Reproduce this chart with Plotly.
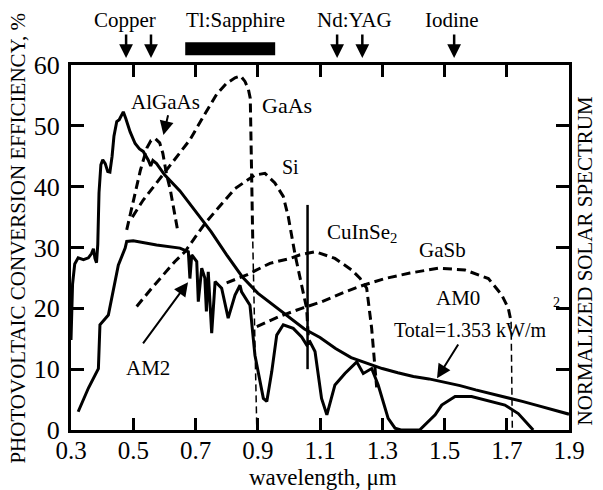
import plotly.graph_objects as go

# ---------------- data ----------------
wl_am0 = [0.300, 0.305, 0.312, 0.323, 0.340, 0.356, 0.366, 0.372, 0.377, 0.382, 0.386, 0.390,
          0.396, 0.402, 0.410, 0.418, 0.425, 0.432, 0.438, 0.447, 0.455, 0.462, 0.468, 0.476,
          0.490, 0.506, 0.520, 0.532, 0.548, 0.556, 0.563, 0.575, 0.585, 0.600, 0.650, 0.700,
          0.750, 0.800, 0.850, 0.900, 0.950, 1.000, 1.050, 1.100, 1.150, 1.200, 1.250, 1.300,
          1.350, 1.400, 1.450, 1.500, 1.550, 1.600, 1.650, 1.700, 1.750, 1.800, 1.850, 1.900]
am0 = [14.8, 24.0, 27.3, 28.3, 28.0, 28.3, 29.0, 29.8, 28.2, 27.5, 30.5, 39.0,
       43.6, 44.4, 43.8, 42.5, 42.4, 45.0, 48.3, 50.7, 51.0, 51.6, 52.3, 51.2,
       49.0, 47.1, 46.2, 45.8, 44.4, 43.4, 44.3, 43.8, 43.0, 42.0, 39.3, 36.0,
       32.6, 28.8, 25.2, 22.5, 20.5, 18.5, 16.6, 15.2, 13.4, 11.9, 11.0, 10.1,
       9.4, 8.8, 8.4, 7.9, 7.3, 6.6, 6.0, 5.4, 4.7, 4.0, 3.3, 2.6]

wl_am2 = [0.323, 0.356, 0.388, 0.393, 0.420, 0.436, 0.452, 0.474, 0.479, 0.500, 0.575, 0.650,
          0.666, 0.677, 0.682, 0.688, 0.704, 0.709, 0.720, 0.730, 0.735, 0.741, 0.752, 0.763,
          0.784, 0.805, 0.827, 0.843, 0.848, 0.875, 0.891, 0.918, 0.929, 0.945, 0.961, 0.982,
          1.014, 1.041, 1.057, 1.068, 1.084, 1.105, 1.122, 1.148, 1.180, 1.218, 1.239, 1.266,
          1.287, 1.319, 1.341, 1.360, 1.420, 1.437, 1.470, 1.491, 1.534, 1.587, 1.652, 1.694,
          1.737, 1.769, 1.785]
am2 = [3.0, 6.9, 10.1, 17.3, 18.9, 23.3, 27.1, 29.9, 31.0, 31.1, 30.4, 29.9,
       29.6, 29.3, 24.9, 28.8, 27.7, 21.1, 26.6, 25.0, 19.5, 26.0, 15.9, 24.4,
       23.3, 18.4, 22.2, 23.8, 22.7, 20.5, 12.3, 5.2, 4.7, 9.6, 15.6, 17.3,
       16.7, 15.3, 14.0, 14.5, 12.9, 5.2, 2.5, 7.4, 9.3, 11.2, 9.3, 10.1,
       7.4, 1.9, 0.3, 0.0, 0.0, 0.8, 2.5, 4.1, 5.5, 5.5, 4.7, 4.1,
       2.7, 0.8, 0.0]

wl_algaas = [0.479, 0.500, 0.523, 0.544, 0.557, 0.571, 0.585, 0.595, 0.607, 0.619, 0.630, 0.642]
eff_algaas = [32.9, 37.8, 42.7, 46.4, 47.6, 47.9, 47.2, 45.5, 42.0, 39.5, 36.3, 33.0]

wl_gaas = [0.497, 0.532, 0.570, 0.607, 0.645, 0.682, 0.725, 0.768, 0.800, 0.827, 0.845, 0.859,
           0.870, 0.876, 0.880, 0.884]
eff_gaas = [35.0, 37.8, 40.3, 42.7, 45.2, 47.7, 51.5, 55.2, 57.0, 57.9, 58.2, 57.3,
            56.0, 54.5, 43.0, 31.0]
wl_gaas_edge = [0.884, 0.890, 0.897]
eff_gaas_edge = [31.0, 15.0, 0.0]

wl_si = [0.511, 0.559, 0.634, 0.666, 0.731, 0.827, 0.891, 0.923, 0.955, 0.982, 0.998, 1.009,
         1.020, 1.041, 1.057, 1.064]
eff_si = [20.3, 23.3, 27.7, 29.3, 34.0, 39.7, 41.9, 42.2, 40.6, 38.4, 35.1, 31.8,
          28.8, 23.8, 20.0, 14.0]

wl_cuinse2 = [0.800, 0.865, 0.939, 1.004, 1.036, 1.086, 1.148, 1.202, 1.229, 1.250, 1.266, 1.277, 1.282]
eff_cuinse2 = [24.2, 25.5, 27.4, 28.2, 28.8, 29.3, 28.2, 26.3, 24.9, 23.3, 16.7, 10.7, 7.0]

wl_gasb = [0.897, 0.966, 1.041, 1.106, 1.180, 1.239, 1.309, 1.389, 1.480, 1.566, 1.641, 1.684,
           1.705, 1.714]
eff_gasb = [17.0, 18.6, 20.0, 21.1, 22.7, 23.8, 24.9, 25.8, 26.6, 26.3, 24.9, 22.2,
            20.0, 17.8]
wl_gasb_edge = [1.714, 1.717, 1.718]
eff_gasb_edge = [17.8, 8.0, 0.0]

wl_ndyag_line = [1.060, 1.060]
val_ndyag_line = [37.0, 10.0]

laser_arrow_wl = [0.477, 0.557, 1.155, 1.236, 1.531]
laser_names = ["Copper", "Tl:Sapphire", "Nd:YAG", "Iodine"]
laser_name_wl = [0.473, 0.830, 1.212, 1.524]
ti_sapphire_band = [0.667, 0.956]

x_ticks = [0.3, 0.5, 0.7, 0.9, 1.1, 1.3, 1.5, 1.7, 1.9]
x_tick_labels = ["0.3", "0.5", "0.7", "0.9", "1.1", "1.3", "1.5", "1.7", "1.9"]
y_ticks = [0, 10, 20, 30, 40, 50, 60]
y_tick_labels = ["0", "10", "20", "30", "40", "50", "60"]

# ---------------- figure ----------------
FONT = "Liberation Serif"
BLACK = "#000000"
DASH = "9px,5px"

fig = go.Figure()

def add_line(x, y, width=3, dash="solid"):
    fig.add_trace(go.Scatter(x=x, y=y, mode="lines",
                             line=dict(color=BLACK, width=width, dash=dash, shape="linear"),
                             showlegend=False, hoverinfo="skip"))

add_line(wl_am0, am0, 3)
add_line(wl_am2, am2, 3)
add_line(wl_algaas, eff_algaas, 3, DASH)
add_line(wl_gaas, eff_gaas, 3, DASH)
add_line(wl_gaas_edge, eff_gaas_edge, 1.5, "7px,4px")
add_line(wl_si, eff_si, 3, DASH)
add_line(wl_cuinse2, eff_cuinse2, 3, DASH)
add_line(wl_gasb, eff_gasb, 3, DASH)
add_line(wl_gasb_edge, eff_gasb_edge, 1.5, "7px,4px")
add_line(wl_ndyag_line, val_ndyag_line, 2.5)

annotations = []

def label(text, x, y, size=21, xref="x", yref="y", **kw):
    annotations.append(dict(text=text, x=x, y=y, xref=xref, yref=yref, showarrow=False,
                            xanchor="center", yanchor="middle",
                            font=dict(family=FONT, size=size, color=BLACK), **kw))

def arrow(x_tip, y_tip, x_tail, y_tail):
    annotations.append(dict(text="", x=x_tip, y=y_tip, ax=x_tail, ay=y_tail,
                            xref="x", yref="y", axref="x", ayref="y", showarrow=True,
                            arrowhead=2, arrowsize=1.4, arrowwidth=2, arrowcolor=BLACK))

# curve labels
label("AlGaAs", 0.602, 53.9)
label("GaAs", 0.994, 53.4, size=22)
label("Si", 1.004, 43.2, size=20)
label("CuInSe<sub>2</sub>", 1.235, 32.4)
label("GaSb", 1.495, 29.6)
label("AM0", 1.544, 21.7)
label("Total=1.353 kW/m", 1.582, 16.4, size=20)
label("2", 1.861, 20.9, size=14)
label("AM2", 0.547, 10.2)

arrow(0.597, 48.5, 0.613, 52.0)
arrow(0.676, 24.3, 0.528, 14.0)
arrow(1.476, 8.5, 1.547, 14.3)

# top laser markers
for wl in laser_arrow_wl:
    annotations.append(dict(text="", x=wl, y=1.019, xref="x", yref="paper",
                            ax=0, ay=-25, showarrow=True, arrowhead=2, arrowsize=1.1,
                            arrowwidth=2.5, arrowcolor=BLACK))
for name, wl in zip(laser_names, laser_name_wl):
    label(name, wl, 1.122, size=21, yref="paper")

# axis titles
label("PHOTOVOLTAIC CONVERSION EFFICIENCY, %", -0.106, 0.525, size=21,
      xref="paper", yref="paper", textangle=-90)
label("NORMALIZED SOLAR SPECTRUM", 1.033, 0.463, size=21,
      xref="paper", yref="paper", textangle=-90)
label("wavelength, \u03bcm", 0.506, -0.131, size=23, xref="paper", yref="paper")

fig.update_layout(
    width=603, height=490,
    margin=dict(l=71, r=34, t=65, b=60),
    paper_bgcolor="white", plot_bgcolor="white",
    font=dict(family=FONT, color=BLACK),
    annotations=annotations,
    shapes=[dict(type="rect", xref="x", yref="paper",
                 x0=ti_sapphire_band[0], x1=ti_sapphire_band[1], y0=1.027, y1=1.062,
                 fillcolor=BLACK, line=dict(width=0))],
    xaxis=dict(range=[0.3, 1.9], tickvals=x_ticks, ticktext=x_tick_labels,
               ticks="inside", ticklen=12, tickwidth=2.5, tickcolor=BLACK,
               showline=True, linewidth=3, linecolor=BLACK, mirror="ticks",
               showgrid=False, zeroline=False, ticklabelstandoff=-4,
               tickfont=dict(family=FONT, size=25, color=BLACK)),
    yaxis=dict(range=[0, 60], tickvals=y_ticks, ticktext=y_tick_labels,
               ticks="inside", ticklen=13, tickwidth=2.5, tickcolor=BLACK,
               showline=True, linewidth=3, linecolor=BLACK, mirror="ticks",
               showgrid=False, zeroline=False, ticklabelstandoff=3,
               tickfont=dict(family=FONT, size=26, color=BLACK)),
)

fig.write_html("out.html")
